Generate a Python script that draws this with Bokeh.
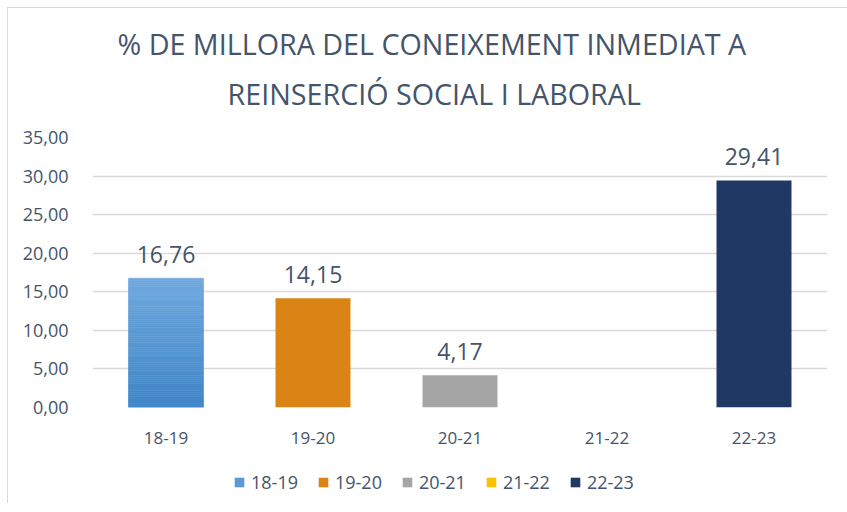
from bokeh.plotting import figure
from bokeh.layouts import column
from bokeh.models import (ColumnDataSource, Legend, LegendItem, CustomJSTickFormatter,
                          FactorRange, Title, Range1d)
from bokeh.core.properties import value
from bokeh.embed import file_html
from bokeh.resources import INLINE
import math

# ---- data ----
categories = ["18-19", "19-20", "20-21", "21-22", "22-23"]
values = [16.76, 14.15, 4.17, float("nan"), 29.41]
colors = ["#5b9bd5", "#da8415", "#a5a5a5", "#ffc000", "#203864"]
y_ticks = [0, 5, 10, 15, 20, 25, 30, 35]
title_lines = ["% DE MILLORA DEL CONEIXEMENT INMEDIAT A", "REINSERCIÓ SOCIAL I LABORAL"]

TEXT = "#44546a"
FONT = "Open Sans"
BAR_W = 0.51

p = figure(width=839, height=455, x_range=FactorRange(*categories), y_range=(0, 35),
           output_backend="svg", toolbar_location=None, title=None,
           min_border_left=84, min_border_right=20, min_border_top=129, min_border_bottom=56)
p.outline_line_color = None
p.background_fill_color = "white"

# title: two lines, each its own Title (added nearest-first)
t2 = Title(text=title_lines[1], align="left", offset=135, text_font=FONT,
           text_font_size="28.7px", text_font_style="normal", text_color=TEXT, standoff=49)
t1 = Title(text=title_lines[0], align="left", offset=25, text_font=FONT,
           text_font_size="28.7px", text_font_style="normal", text_color=TEXT, standoff=-30)
p.add_layout(t2, "above")
p.add_layout(t1, "above")

# gradient first bar (derived from the data value)
def hex2rgb(h):
    return tuple(int(h[i:i + 2], 16) for i in (1, 3, 5))

top_c, bot_c = hex2rgb("#70a8de"), hex2rgb("#3f86c8")
n = 60
v0 = values[0]
g_b, g_t, g_c = [], [], []
for i in range(n):
    f = (i + 0.5) / n
    c = tuple(round(bot_c[k] + (top_c[k] - bot_c[k]) * f) for k in range(3))
    g_b.append(v0 * i / n)
    g_t.append(v0 * (i + 1) / n)
    g_c.append("#%02x%02x%02x" % c)
gsrc = ColumnDataSource(dict(x=[categories[0]] * n, bottom=g_b, top=g_t, color=g_c))
p.vbar(x="x", bottom="bottom", top="top", width=BAR_W, fill_color="color",
       line_color="color", line_width=0.6, source=gsrc)

for i in range(1, len(categories)):
    t = values[i]
    src = ColumnDataSource(dict(x=[categories[i]], top=[0 if math.isnan(t) else t]))
    p.vbar(x="x", top="top", bottom=0, width=BAR_W, fill_color=colors[i],
           line_color=None, source=src)

# data labels
lab_x = [c for c, v in zip(categories, values) if not math.isnan(v)]
lab_y = [v for v in values if not math.isnan(v)]
lab_t = [("%.2f" % v).replace(".", ",") for v in lab_y]
p.text(x=lab_x, y=lab_y, text=lab_t, text_align="center", text_baseline="alphabetic",
       y_offset=-24, text_font=value(FONT), text_font_size="23px", text_color=TEXT)

# axes
p.yaxis.ticker = y_ticks
p.yaxis.formatter = CustomJSTickFormatter(code="return tick.toFixed(2).replace('.', ',');")
for ax in (p.xaxis, p.yaxis):
    ax.axis_line_color = None
    ax.major_tick_line_color = None
    ax.minor_tick_line_color = None
    ax.major_label_text_font = FONT
    ax.major_label_text_color = TEXT
p.yaxis.major_label_text_font_size = "18px"
p.xaxis.major_label_text_font_size = "17px"
p.yaxis.major_label_standoff = 18
p.xaxis.major_label_standoff = 18
p.xgrid.grid_line_color = None
p.ygrid.grid_line_color = "#d9d9d9"
p.ygrid.grid_line_width = 1.3

# legend in its own strip below the chart (zero-height bars only provide legend swatches)
lp = figure(width=839, height=40, output_backend="svg", toolbar_location=None,
            x_range=FactorRange(*categories), y_range=Range1d(0, 1),
            x_axis_type=None, y_axis_type=None, min_border=0)
lp.outline_line_color = None
lp.grid.grid_line_color = None
legend_colors = ["#5a9ad7"] + colors[1:]
items = []
for cat, col in zip(categories, legend_colors):
    r = lp.vbar(x=[cat], top=[0], width=0.5, fill_color=col, line_color=None)
    items.append(LegendItem(label=cat, renderers=[r]))
legend = Legend(items=items, orientation="horizontal", location=(141, 9),
                glyph_width=12, glyph_height=12, label_standoff=6, spacing=19,
                padding=0, margin=0, border_line_color=None, background_fill_alpha=0,
                label_text_font=FONT, label_text_font_size="18px", label_text_color=TEXT)
lp.add_layout(legend, "center")

layout = column(p, lp, spacing=0)
layout.styles = {"border-left": "1px solid #d9d9d9", "border-top": "1px solid #d9d9d9",
                 "margin": "7px 0 0 7px"}

open("out.html", "w").write(file_html(layout, INLINE))
